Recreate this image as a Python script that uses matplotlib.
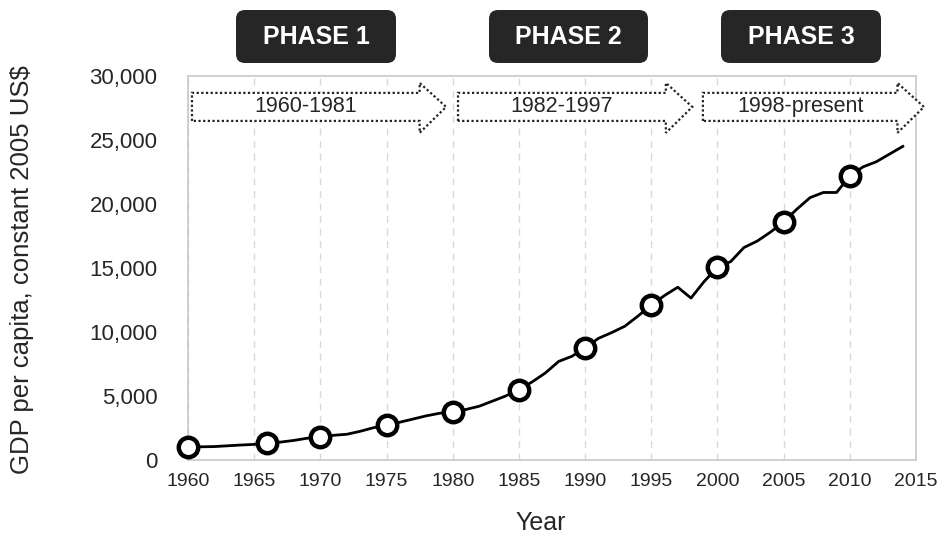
import matplotlib
matplotlib.use("Agg")
import matplotlib.pyplot as plt
from matplotlib.patches import FancyBboxPatch, Polygon
from matplotlib.ticker import FuncFormatter, MultipleLocator

plt.rcParams['font.family'] = ['Liberation Sans', 'DejaVu Sans']

years = list(range(1960, 2015))
gdp = [1010, 1030, 1050, 1110, 1170, 1220, 1330, 1400, 1530, 1700,
       1800, 1930, 2010, 2240, 2520, 2700, 2950, 3200, 3450, 3650,
       3750, 3950, 4200, 4600, 5000, 5500, 6100, 6800, 7700, 8100,
       8750, 9500, 9950, 10450, 11250, 12100, 12850, 13500, 12650, 13950,
       15050, 15500, 16600, 17100, 17800, 18600, 19600, 20500, 20900, 20900,
       22200, 22900, 23300, 23900, 24500]
marker_years = [1960, 1966, 1970, 1975, 1980, 1985, 1990, 1995, 2000, 2005, 2010]
marker_vals = [gdp[years.index(y)] for y in marker_years]

phase_labels = ["PHASE 1", "PHASE 2", "PHASE 3"]
period_labels = ["1960-1981", "1982-1997", "1998-present"]
# arrow extents (years): left edge, head tip
arrow_spans = [(1960.3, 1979.5), (1980.4, 1998.1), (1998.9, 2015.6)]

W, H = 944, 538
fig = plt.figure(figsize=(W / 100, H / 100), dpi=100)
ax = fig.add_axes([188 / W, (H - 460) / H, 728 / W, 384 / H])

ax.plot(years, gdp, color='black', lw=2, solid_joinstyle='round', zorder=3)
ax.plot(marker_years, marker_vals, linestyle='none', marker='o', ms=14,
        mfc='white', mec='black', mew=3.2, zorder=4, clip_on=False)

ax.set_xlim(1960, 2015)
ax.set_ylim(0, 30000)
ax.xaxis.set_major_locator(MultipleLocator(5))
ax.yaxis.set_major_locator(MultipleLocator(5000))
ax.yaxis.set_major_formatter(FuncFormatter(lambda v, p: f"{int(v):,}"))
ax.tick_params(axis='both', length=0, colors='#262626')
ax.tick_params(axis='y', labelsize=16, pad=22)
ax.tick_params(axis='x', labelsize=14, pad=9)
ax.grid(axis='x', color='#d9d9d9', linestyle=(0, (5, 4)), lw=1)
ax.set_axisbelow(True)
for s in ax.spines.values():
    s.set_color('#c8c8c8')
    s.set_linewidth(1.2)

fig.text(22 / W, (H - 270) / H, "GDP per capita, constant 2005 US$",
         rotation=90, ha='center', va='center', fontsize=18.5, color='#262626')
fig.text(541 / W, (H - 523) / H, "Year", ha='center', va='center',
         fontsize=18, color='#262626')

# phase boxes
box_x = [(236, 396), (489, 648), (721, 881)]
for (x0, x1), lab in zip(box_x, phase_labels):
    pad = 8
    p = FancyBboxPatch(((x0 + pad) / W, (H - 63 + pad) / H),
                       (x1 - x0 - 2 * pad) / W, (63 - 10 - 2 * pad) / H,
                       boxstyle=f"round,pad={pad / W},rounding_size={9 / W}",
                       transform=fig.transFigure, facecolor='#262626',
                       edgecolor='none', mutation_aspect=W / H)
    fig.patches.append(p)
    fig.text((x0 + x1) / 2 / W, (H - 37) / H, lab, color='white',
             fontsize=18, fontweight='bold', ha='center', va='center')

# dotted arrows
tr = ax.get_xaxis_transform()
body_top, body_bot = 0.956, 0.883
head_top, head_bot = 0.982, 0.852
ymid = (body_top + body_bot) / 2
head_len = 2.0
for (x0, x1), lab in zip(arrow_spans, period_labels):
    xb = x1 - head_len
    verts = [(x0, body_bot), (x0, body_top), (xb, body_top), (xb, head_top),
             (x1, ymid), (xb, head_bot), (xb, body_bot)]
    poly = Polygon(verts, closed=True, transform=tr, facecolor='white',
                   edgecolor='#222222', linestyle=(0, (1, 1.1)), lw=1.6,
                   clip_on=False, zorder=5)
    ax.add_patch(poly)
    ax.text((x0 + xb) / 2, ymid, lab, transform=tr, ha='center', va='center',
            fontsize=15.5, color='#262626', zorder=6)

fig.savefig("out.png", dpi=100, facecolor='white')
